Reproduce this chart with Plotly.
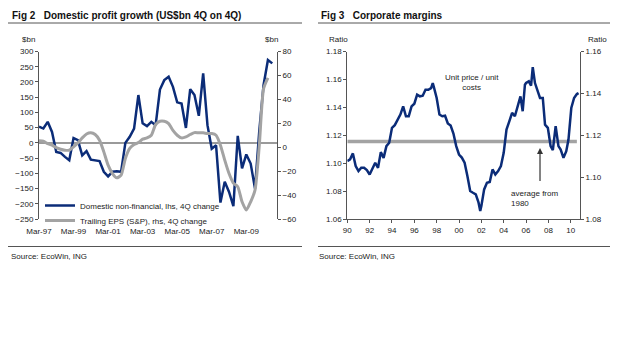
import pandas as pd
import plotly.graph_objects as go

# ---------------- data: Fig 2 (quarterly, from Mar-97) ----------------
domestic_nonfin = [53, 47, 69, 36, -30, -33, -46, -57, 16, 9, -41, -27,
                   -55, -57, -60, -95, -110, -95, -93, -95, 0, 20, 47, 157,
                   64, 55, 69, 58, 175, 206, 217, 184, 133, 129, 49, 176,
                   157, 89, 228, 58, -19, -8, -196, -128, -161, -208, 23, -84,
                   -38, -68, -150, 40, 190, 272, 261]
trailing_eps = [5.3, 5, 3, 1.7, -0.3, -1.7, -2.5, -2.5, 0.3, 3.6, 7.8, 11,
                12, 10.6, 5.8, -3.9, -15, -22, -25.6, -23.3, -9.4, -1, 2.2, 3.9,
                6.7, 7.8, 10, 19, 21.7, 21.7, 19.7, 14, 10, 7.8, 8.6, 10.6,
                12.2, 12, 12, 11.4, 11.4, 10, 1.7, -10.8, -22, -30, -33, -45.6,
                -52.5, -45.6, -35.8, 1.7, 49, 58]
quarters = pd.date_range("1997-03-01", periods=len(domestic_nonfin), freq="3MS")
fig2_ticks = ["1997-03-01", "1999-03-01", "2001-03-01", "2003-03-01",
              "2005-03-01", "2007-03-01", "2009-03-01"]

# ---------------- data: Fig 3 ----------------
margin_years = [1990.0, 1990.25, 1990.5, 1990.75, 1991.0, 1991.25, 1991.5, 1991.75,
                1992.0, 1992.25, 1992.5, 1992.75, 1993.0, 1993.25, 1993.5, 1993.75,
                1994.0, 1994.25, 1994.5, 1994.75, 1995.0, 1995.25, 1995.5, 1995.75,
                1996.0, 1996.25, 1996.5, 1996.75, 1997.0, 1997.25, 1997.5, 1997.65, 1997.75,
                1998.0, 1998.25, 1998.5, 1998.75, 1999.0, 1999.25, 1999.5, 1999.75,
                2000.0, 2000.25, 2000.5, 2000.75, 2001.0, 2001.25, 2001.5, 2001.75, 2001.9,
                2002.0, 2002.25, 2002.5, 2002.75, 2003.0, 2003.25, 2003.5, 2003.75,
                2004.0, 2004.25, 2004.5, 2004.75, 2005.0, 2005.25, 2005.5, 2005.7, 2005.9,
                2006.0, 2006.25, 2006.45, 2006.6, 2006.8, 2007.0, 2007.25, 2007.5, 2007.7, 2007.95,
                2008.2, 2008.4, 2008.65, 2008.9, 2009.1, 2009.35, 2009.6, 2009.8,
                2010.05, 2010.3, 2010.55, 2010.7]
margin_ratio = [1.1015, 1.1027, 1.107, 1.0979, 1.0943, 1.0967, 1.0967, 1.095,
                1.0919, 1.0967, 1.1003, 1.0967, 1.1079, 1.1038, 1.1122, 1.1146,
                1.1253, 1.1272, 1.1312, 1.1348, 1.1407, 1.1336, 1.1336, 1.1407,
                1.1426, 1.1491, 1.1479, 1.1483, 1.1526, 1.1526, 1.1538, 1.1574, 1.1545,
                1.1467, 1.1348, 1.1336, 1.134, 1.1284, 1.1269, 1.1212, 1.1122,
                1.1062, 1.1040, 1.1003, 1.0908, 1.08, 1.0788, 1.0777, 1.0717, 1.0658,
                1.0693, 1.0812, 1.086, 1.0865, 1.0955, 1.0919, 1.0943, 1.0979,
                1.1074, 1.1241, 1.13, 1.136, 1.1336, 1.1407, 1.1479, 1.1372, 1.1562,
                1.1574, 1.1586, 1.1555, 1.1688, 1.1574, 1.1526, 1.1467, 1.1467, 1.1276, 1.1253,
                1.1122, 1.1093, 1.1265, 1.1122, 1.1098, 1.1038, 1.1086, 1.1169,
                1.1395, 1.1467, 1.1495, 1.1502]
avg_years = [1990.0, 2010.55]
avg_ratio = [1.1155, 1.1155]
fig3_tickvals = [1990, 1992, 1994, 1996, 1998, 2000, 2002, 2004, 2006, 2008, 2010]
fig3_ticktext = ["90", "92", "94", "96", "98", "00", "02", "04", "06", "08", "10"]

# ---------------- styling helpers ----------------
W, H = 640, 359
FONT = "Liberation Sans, Arial, sans-serif"
NAVY = "#0B2C78"
GREY = "#A3A3A3"
AX = "#555555"
TXT = "#222222"


def fx(px):
    return px / W


def fy(py):
    return 1 - py / H


fig = go.Figure()

fig.add_trace(go.Scatter(x=quarters, y=domestic_nonfin, mode="lines",
                         name="Domestic non-financial, lhs, 4Q change",
                         line=dict(color=NAVY, width=2.5),
                         xaxis="x", yaxis="y", legend="legend"))
fig.add_trace(go.Scatter(x=quarters[:len(trailing_eps)], y=trailing_eps, mode="lines",
                         name="Trailing EPS (S&P), rhs, 4Q change",
                         line=dict(color=GREY, width=3, shape="spline", smoothing=0.6),
                         xaxis="x", yaxis="y2", legend="legend2"))

fig.add_trace(go.Scatter(x=avg_years, y=avg_ratio, mode="lines", showlegend=False,
                         line=dict(color=GREY, width=3.5), xaxis="x2", yaxis="y3"))
fig.add_trace(go.Scatter(x=margin_years, y=margin_ratio, mode="lines", showlegend=False,
                         line=dict(color=NAVY, width=2.5), xaxis="x2", yaxis="y3"))
fig.add_trace(go.Scatter(x=[None], y=[None], mode="lines", showlegend=False,
                         xaxis="x2", yaxis="y4"))

tickfont = dict(family=FONT, size=8, color=TXT)
ydom = [fy(219), fy(51.5)]
yax_common = dict(showgrid=False, showline=True, linecolor=AX, linewidth=1,
                  ticks="outside", ticklen=3, tickcolor=AX, tickfont=tickfont,
                  domain=ydom, automargin=False)

fig.update_layout(
    template="none",
    width=W, height=H,
    margin=dict(l=0, r=0, t=0, b=0, pad=0),
    paper_bgcolor="white", plot_bgcolor="rgba(0,0,0,0)",
    font=dict(family=FONT, size=8, color=TXT),
    hovermode=False,
    xaxis=dict(domain=[fx(39), fx(277)], anchor="y", type="date",
               range=["1997-03-01", "2010-12-10"], tickvals=fig2_ticks,
               tickformat="%b-%y", showline=False, showgrid=False, zeroline=False,
               ticks="", tickfont=tickfont, ticklabelstandoff=6, automargin=False),
    yaxis=dict(anchor="x", range=[-250, 300], dtick=50, zeroline=True,
               zerolinecolor="#9A9A9A", zerolinewidth=1.5, **yax_common),
    yaxis2=dict(anchor="x", overlaying="y", side="right", range=[-60, 80], dtick=20,
                zeroline=False, **yax_common),
    xaxis2=dict(domain=[fx(347.3), fx(580)], anchor="y3", range=[1990, 2010.83],
                tickvals=fig3_tickvals, ticktext=fig3_ticktext, showline=True,
                linecolor=AX, ticks="outside", ticklen=3, tickcolor=AX,
                showgrid=False, zeroline=False, tickfont=tickfont, automargin=False),
    yaxis3=dict(anchor="x2", range=[1.06, 1.18], dtick=0.02, tickformat=".2f",
                zeroline=False, **yax_common),
    yaxis4=dict(anchor="x2", overlaying="y3", side="right", range=[1.08, 1.16],
                dtick=0.02, tickformat=".2f", zeroline=False, **yax_common),
    legend=dict(x=fx(40), y=fy(191), xanchor="left", yanchor="top",
                bgcolor="rgba(0,0,0,0)", font=dict(family=FONT, size=8, color=TXT),
                itemwidth=30, borderwidth=0),
    legend2=dict(x=fx(40), y=fy(206), xanchor="left", yanchor="top",
                 bgcolor="rgba(0,0,0,0)", font=dict(family=FONT, size=8, color=TXT),
                 itemwidth=30, borderwidth=0),
)

# Titles, units, source, rules
ann = [
    dict(text="<b>Fig 2   Domestic profit growth (US$bn 4Q on 4Q)</b>", x=fx(10), y=fy(15),
         xanchor="left", font=dict(size=10, color="#111")),
    dict(text="<b>Fig 3   Corporate margins</b>", x=fx(319), y=fy(15),
         xanchor="left", font=dict(size=10, color="#111")),
    dict(text="$bn", x=fx(28), y=fy(39), xanchor="center"),
    dict(text="$bn", x=fx(271), y=fy(39), xanchor="center"),
    dict(text="Ratio", x=fx(338), y=fy(39), xanchor="center"),
    dict(text="Ratio", x=fx(597), y=fy(39), xanchor="center"),
    dict(text="Source: EcoWin, ING", x=fx(9), y=fy(256), xanchor="left"),
    dict(text="Source: EcoWin, ING", x=fx(317), y=fy(256), xanchor="left"),
]
for a in ann:
    a.update(xref="paper", yref="paper", yanchor="middle", showarrow=False)
    a.setdefault("font", dict(size=8, color=TXT))
    a["font"].setdefault("family", FONT)
    fig.add_annotation(**a)

fig.add_annotation(text="Unit price / unit<br>costs", x=2001.15, y=1.1575, xref="x2", yref="y3",
                   showarrow=False, xanchor="center", yanchor="middle", align="center",
                   font=dict(family=FONT, size=8, color=TXT))
fig.add_annotation(text="average from<br>1980", x=2004.45, y=1.0745, xref="x2", yref="y3",
                   showarrow=False, xanchor="left", yanchor="middle", align="left",
                   font=dict(family=FONT, size=8, color=TXT))
fig.add_annotation(text="", x=2007.25, y=1.1108, ax=2007.25, ay=1.0862,
                   xref="x2", yref="y3", axref="x2", ayref="y3", showarrow=True,
                   arrowhead=2, arrowsize=1, arrowwidth=1.2, arrowcolor="#333")

for x0, x1 in [(8, 302), (318, 610)]:
    for yy in (23, 246.5):
        fig.add_shape(type="line", xref="paper", yref="paper",
                      x0=fx(x0), x1=fx(x1), y0=fy(yy), y1=fy(yy),
                      line=dict(color="#555", width=1))

fig.write_html("out.html",
               config={"displayModeBar": False, "staticPlot": True},
               post_script="document.body.style.margin='0px';document.body.style.padding='0px';")
